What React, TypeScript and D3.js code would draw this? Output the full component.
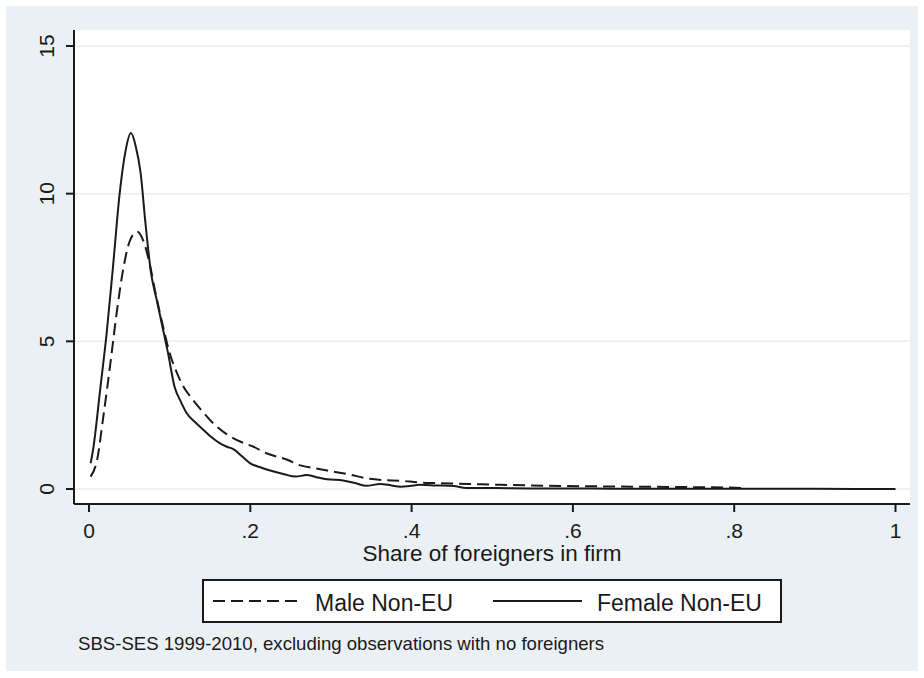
import * as d3 from "d3";

// kernel density curves
const maleX = [0.002, 0.01, 0.018, 0.026, 0.034, 0.043, 0.051, 0.06, 0.067, 0.076, 0.082, 0.088, 0.094, 0.1, 0.108, 0.117, 0.128, 0.14, 0.155, 0.171, 0.188, 0.204, 0.22, 0.245, 0.262, 0.28, 0.303, 0.325, 0.344, 0.365, 0.386, 0.41, 0.43, 0.47, 0.51, 0.55, 0.59, 0.63, 0.675, 0.72, 0.76, 0.79, 0.815];
const maleY = [0.42, 0.98, 2.5, 4.14, 5.9, 7.53, 8.43, 8.71, 8.43, 7.53, 6.7, 5.95, 5.25, 4.6, 4.0, 3.47, 3.05, 2.65, 2.2, 1.85, 1.6, 1.43, 1.21, 1.0, 0.8, 0.7, 0.59, 0.48, 0.36, 0.3, 0.28, 0.22, 0.2, 0.17, 0.14, 0.12, 0.1, 0.09, 0.08, 0.07, 0.06, 0.05, 0.03];

const femaleX = [0.002, 0.005, 0.014, 0.022, 0.03, 0.038, 0.045, 0.052, 0.058, 0.064, 0.07, 0.077, 0.084, 0.091, 0.098, 0.106, 0.114, 0.121, 0.132, 0.142, 0.152, 0.162, 0.171, 0.179, 0.19, 0.2, 0.214, 0.228, 0.242, 0.256, 0.27, 0.282, 0.295, 0.315, 0.33, 0.344, 0.361, 0.375, 0.386, 0.398, 0.41, 0.43, 0.452, 0.468, 0.5, 0.55, 0.6, 0.65, 0.7, 0.8, 0.9, 1.0];
const femaleY = [0.87, 1.32, 3.4, 5.3, 7.6, 10.0, 11.4, 12.05, 11.6, 10.7, 9.0, 7.3, 6.4, 5.5, 4.6, 3.47, 2.95, 2.57, 2.25, 2.0, 1.75, 1.55, 1.43, 1.35, 1.1, 0.87, 0.72, 0.6, 0.5, 0.42, 0.47, 0.4, 0.33, 0.29, 0.2, 0.11, 0.17, 0.12, 0.08, 0.1, 0.14, 0.12, 0.1, 0.03, 0.03, 0.02, 0.02, 0.01, 0.01, 0.01, 0.005, 0.0];

const xTicks = [0, 0.2, 0.4, 0.6, 0.8, 1];
const xTickLabels = ["0", ".2", ".4", ".6", ".8", "1"];
const yTicks = [0, 5, 10, 15];

const seriesNames = ["Male Non-EU", "Female Non-EU"];

const W = 924;
const H = 678;
const font = "'Liberation Sans', Arial, sans-serif";
const ink = "#1a1a1a";

export default function App() {
  const x = d3.scaleLinear().domain([0, 1]).range([89, 895.5]);
  const y = d3.scaleLinear().domain([0, 15]).range([489, 46]);

  const line = d3
    .line<[number, number]>()
    .x((d) => x(d[0]))
    .y((d) => y(d[1]))
    .curve(d3.curveMonotoneX);

  const male = maleX.map((v, i) => [v, maleY[i]] as [number, number]);
  const female = femaleX.map((v, i) => [v, femaleY[i]] as [number, number]);

  const plot = { left: 74, right: 910, top: 30, bottom: 504 };

  return (
    <svg
      width={W}
      height={H}
      style={{ position: "absolute", left: 0, top: 0 }}
      fontFamily={font}
    >
      <rect x={0} y={0} width={W} height={H} fill="#ffffff" />
      <rect x={6} y={6} width={912} height={665} fill="#eaf0f3" />
      <rect
        x={plot.left}
        y={plot.top}
        width={plot.right - plot.left}
        height={plot.bottom - plot.top}
        fill="#ffffff"
      />

      {/* grid */}
      {yTicks.map((t) => (
        <line
          key={"g" + t}
          x1={plot.left}
          x2={plot.right}
          y1={y(t)}
          y2={y(t)}
          stroke="#eaeeee"
          strokeWidth={1.5}
        />
      ))}

      {/* curves */}
      <path
        d={line(male) ?? ""}
        fill="none"
        stroke={ink}
        strokeWidth={2}
        strokeDasharray="12 6"
      />
      <path d={line(female) ?? ""} fill="none" stroke={ink} strokeWidth={2} />

      {/* y axis */}
      <line x1={plot.left} x2={plot.left} y1={plot.top} y2={plot.bottom} stroke={ink} strokeWidth={2} />
      {yTicks.map((t) => (
        <g key={"y" + t}>
          <line x1={plot.left - 8} x2={plot.left} y1={y(t)} y2={y(t)} stroke={ink} strokeWidth={2} />
          <text
            transform={`translate(54,${y(t)}) rotate(-90)`}
            textAnchor="middle"
            fontSize={21}
            fill={ink}
          >
            {t}
          </text>
        </g>
      ))}

      {/* x axis */}
      <line x1={plot.left} x2={plot.right} y1={plot.bottom} y2={plot.bottom} stroke={ink} strokeWidth={2} />
      {xTicks.map((t, i) => (
        <g key={"x" + t}>
          <line x1={x(t)} x2={x(t)} y1={plot.bottom} y2={plot.bottom + 8} stroke={ink} strokeWidth={2} />
          <text x={x(t)} y={538} textAnchor="middle" fontSize={21} fill={ink}>
            {xTickLabels[i]}
          </text>
        </g>
      ))}
      <text x={492} y={561} textAnchor="middle" fontSize={22.5} fill={ink}>
        Share of foreigners in firm
      </text>

      {/* legend */}
      <rect x={203} y={580} width={578} height={42} fill="#ffffff" stroke={ink} strokeWidth={2} />
      <line x1={213} x2={302} y1={601} y2={601} stroke={ink} strokeWidth={2} strokeDasharray="12 6" />
      <text x={315} y={611} fontSize={23} fill={ink}>
        {seriesNames[0]}
      </text>
      <line x1={493} x2={582} y1={601} y2={601} stroke={ink} strokeWidth={2} />
      <text x={597} y={611} fontSize={23} fill={ink}>
        {seriesNames[1]}
      </text>

      <text x={78} y={650} fontSize={18.6} fill={ink}>
        SBS-SES 1999-2010, excluding observations with no foreigners
      </text>
    </svg>
  );
}
